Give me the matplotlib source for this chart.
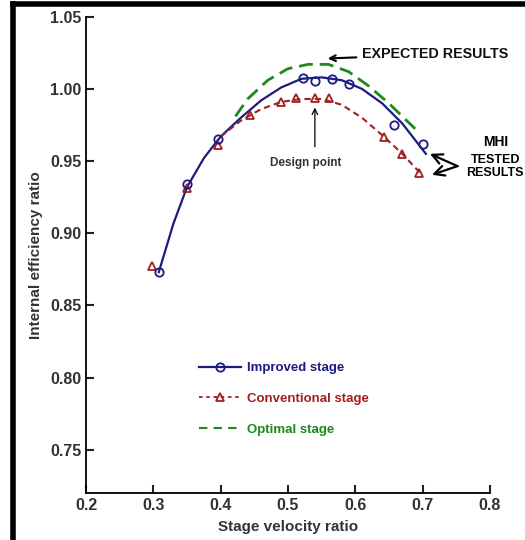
import matplotlib
matplotlib.use("Agg")
import matplotlib.pyplot as plt
from matplotlib.lines import Line2D

plt.rcParams['font.family'] = ['Liberation Sans', 'DejaVu Sans']

# measured points (stage velocity ratio, internal efficiency ratio)
improved_x = [0.308, 0.35, 0.396, 0.523, 0.54, 0.565, 0.59, 0.657, 0.70]
improved_y = [0.873, 0.934, 0.965, 1.0076, 1.0055, 1.007, 1.0035, 0.975, 0.962]
conv_x = [0.298, 0.35, 0.396, 0.444, 0.489, 0.512, 0.54, 0.561, 0.642, 0.67, 0.695]
conv_y = [0.877, 0.931, 0.961, 0.982, 0.991, 0.9935, 0.994, 0.9935, 0.967, 0.955, 0.942]

# fitted curves
improved_fit_x = [0.308, 0.33, 0.35, 0.375, 0.40, 0.43, 0.46, 0.49, 0.52, 0.55, 0.58, 0.61, 0.64, 0.67, 0.705]
improved_fit_y = [0.873, 0.907, 0.932, 0.952, 0.967, 0.980, 0.992, 1.001, 1.007, 1.008, 1.006, 1.000, 0.990, 0.976, 0.955]
conv_fit_x = [0.40, 0.43, 0.46, 0.49, 0.52, 0.55, 0.58, 0.61, 0.64, 0.67, 0.70]
conv_fit_y = [0.967, 0.978, 0.986, 0.991, 0.993, 0.993, 0.989, 0.980, 0.968, 0.955, 0.940]
optimal_x = [0.422, 0.44, 0.47, 0.50, 0.53, 0.56, 0.59, 0.62, 0.65, 0.692]
optimal_y = [0.981, 0.993, 1.006, 1.014, 1.017, 1.017, 1.012, 1.002, 0.990, 0.971]

xticks = [0.2, 0.3, 0.4, 0.5, 0.6, 0.7, 0.8]
yticks = [0.75, 0.80, 0.85, 0.90, 0.95, 1.00, 1.05]

blue = '#1c1c80'
red = '#a31f1f'
green = '#1a8a1a'

fig = plt.figure(figsize=(5.25, 5.4), dpi=100)
ax = fig.add_axes([0.164, 0.087, 0.769, 0.882])

ax.plot(improved_fit_x, improved_fit_y, color=blue, lw=1.6)
ax.plot(conv_fit_x, conv_fit_y, color=red, lw=1.5, ls=(0, (3, 2)))
ax.plot(optimal_x, optimal_y, color=green, lw=2, ls=(0, (5, 2.5)))
ax.plot(conv_x, conv_y, ls='none', marker='^', ms=6, mfc='none', mec=red, mew=1.3)
ax.plot(improved_x, improved_y, ls='none', marker='o', ms=6, mfc='none', mec=blue, mew=1.3)

ax.set_xlim(0.2, 0.8)
ax.set_ylim(0.72, 1.05)
ax.set_xticks(xticks)
ax.set_xticklabels([f'{v:g}' for v in xticks])
ax.set_yticks(yticks)
ax.set_yticklabels([f'{v:.2f}' for v in yticks])
ax.spines['top'].set_visible(False)
ax.spines['right'].set_visible(False)
ax.spines['left'].set_linewidth(1.3)
ax.spines['bottom'].set_linewidth(1.3)
ax.tick_params(direction='in', length=6, width=1.5, labelsize=11.5, colors='#222222')
for lab in ax.get_xticklabels() + ax.get_yticklabels():
    lab.set_fontweight('bold')
    lab.set_color('#333333')

ax.set_xlabel('Stage velocity ratio', fontsize=11, fontweight='bold', color='#333333', labelpad=5)
ax.set_ylabel('Internal efficiency ratio', fontsize=11, fontweight='bold', color='#333333', labelpad=5)

# legend
handles = [
    Line2D([], [], color=blue, lw=1.6, marker='o', ms=6, mfc='none', mec=blue, mew=1.3),
    Line2D([], [], color=red, lw=1.3, ls=(0, (2, 2)), marker='^', ms=6, mfc='none', mec=red, mew=1.3),
    Line2D([], [], color=green, lw=1.5, ls=(0, (4, 3))),
]
leg = ax.legend(handles, ['Improved stage', 'Conventional stage', 'Optimal stage'],
                loc='upper left', bbox_to_anchor=(0.25, 0.30), frameon=False,
                handlelength=3.2, labelspacing=1.4, handletextpad=0.45,
                prop={'size': 9.5, 'weight': 'bold'})
for txt, c in zip(leg.get_texts(), [blue, red, green]):
    txt.set_color(c)

# annotations
ax.annotate('EXPECTED RESULTS', xy=(0.555, 1.021), xytext=(0.61, 1.024),
            fontsize=10.3, fontweight='bold', color='#111111', va='center',
            arrowprops=dict(arrowstyle='->', color='black', lw=1.5))
ax.annotate('', xy=(0.54, 0.989), xytext=(0.54, 0.958),
            arrowprops=dict(arrowstyle='->', color='black', lw=0.9))
ax.text(0.527, 0.9485, 'Design point', fontsize=8.5, fontweight='bold', color='#333333',
        ha='center', va='center')
ax.text(0.808, 0.963, 'MHI', fontsize=10, fontweight='bold', ha='center', va='center',
        clip_on=False)
ax.text(0.808, 0.951, 'TESTED', fontsize=9, fontweight='bold', ha='center', va='center',
        clip_on=False)
ax.text(0.808, 0.942, 'RESULTS', fontsize=9, fontweight='bold', ha='center', va='center',
        clip_on=False)
ax.annotate('', xy=(0.711, 0.955), xytext=(0.752, 0.9465),
            arrowprops=dict(arrowstyle='->', color='black', lw=1.6, mutation_scale=18,
                            shrinkA=0, shrinkB=0))
ax.annotate('', xy=(0.714, 0.9405), xytext=(0.752, 0.9465),
            arrowprops=dict(arrowstyle='->', color='black', lw=1.6, mutation_scale=18,
                            shrinkA=0, shrinkB=0))

# outer black frame (left and top)
fig.add_artist(Line2D([0.025, 0.025], [0, 0.992], transform=fig.transFigure, color='black', lw=4))
fig.add_artist(Line2D([0.025, 1.0], [0.992, 0.992], transform=fig.transFigure, color='black', lw=4))

fig.savefig('out.png', dpi=100)
